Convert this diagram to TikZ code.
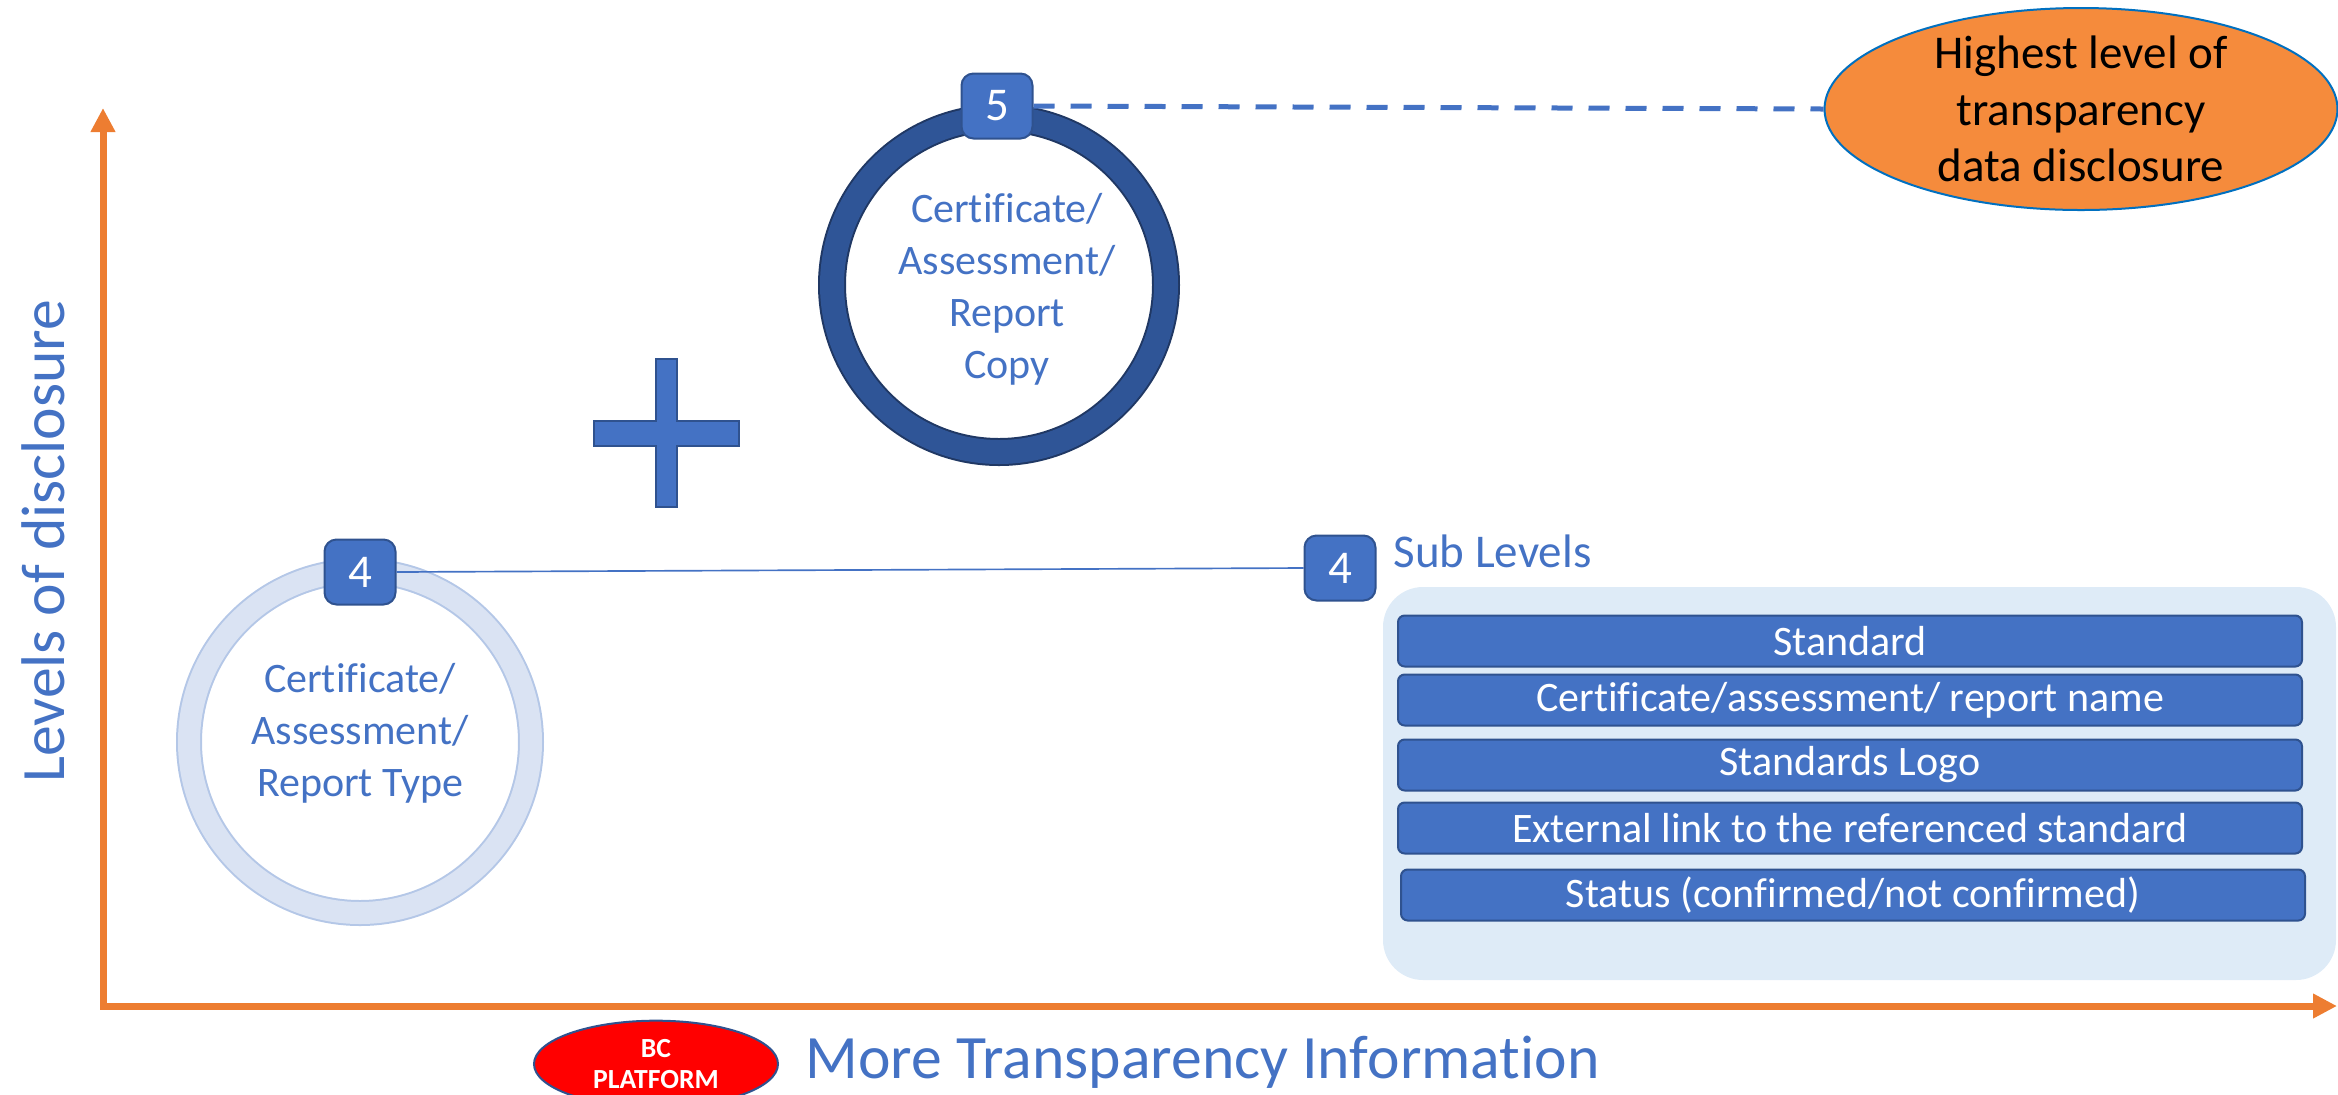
\documentclass[tikz,border=0pt]{standalone}
\usepackage{fontspec}
\setmainfont{Carlito}[Ligatures=NoCommon]
\usepackage{tikz}
\usetikzlibrary{shapes.geometric,arrows.meta}

\definecolor{axisorange}{RGB}{237,125,49}
\definecolor{accentblue}{RGB}{68,114,196}
\definecolor{edgeblue}{RGB}{47,82,143}
\definecolor{darkring}{RGB}{47,85,151}
\definecolor{darkringedge}{RGB}{32,56,100}
\definecolor{lightring}{RGB}{218,227,243}
\definecolor{lightringedge}{RGB}{180,199,231}
\definecolor{panelblue}{RGB}{222,235,247}
\definecolor{calloutorange}{RGB}{245,139,60}
\definecolor{calloutedge}{RGB}{0,112,192}

\begin{document}
\begin{tikzpicture}[x=0.3pt, y=-0.3pt,
        axis/.style={draw=axisorange, line width=2.1pt,
            {Triangle[length=7.2pt,width=7pt]}-{Triangle[length=7.2pt,width=7pt]}},
        axislabel/.style={text=accentblue, inner sep=0pt, font=\fontsize{18.5}{22}\selectfont},
        ring/.style={circle, draw=#1edge, line width=0.6pt, double=#1, inner sep=0pt},
        ringtext/.style={text=accentblue, align=center, inner sep=0pt, font=\fontsize{12.6}{15.6}\selectfont},
        badge/.style={draw=edgeblue, fill=accentblue, line width=0.6pt, rounded corners=3.6pt,
            minimum width=21.3pt, minimum height=19.5pt, inner sep=0pt, text=white,
            font=\fontsize{14.1}{16}\selectfont},
        bar/.style={draw=edgeblue, fill=accentblue, line width=0.6pt, rounded corners=2pt,
            minimum width=271.2pt, minimum height=15.3pt, inner sep=0pt, text=white,
            font=\fontsize{12.6}{15}\selectfont},
        link/.style={draw=accentblue, line width=0.5pt},
        leader/.style={draw=accentblue, line width=1.5pt, dash pattern=on 6.3pt off 4.8pt},
        callout/.style={ellipse, draw=calloutedge, fill=calloutorange, line width=0.6pt,
            minimum width=153.9pt, minimum height=60.6pt},
        platform/.style={ellipse, draw=edgeblue, fill=red, line width=0.6pt, inner sep=0pt,
            minimum width=73.2pt, minimum height=26pt, text=white, align=center,
            font=\bfseries\fontsize{8.3}{9.3}\selectfont}]
    \useasboundingbox (0,0) rectangle (2338,1094);

    \coordinate (origin) at (103,1006);
    \coordinate (ytip) at (103,108);
    \coordinate (xtip) at (2337,1006);
    \draw[axis] (ytip) -- (origin) -- (xtip);
    \node[axislabel, rotate=90, anchor=base] (ylab) at (64,541) {Levels of disclosure};
    \node[axislabel, anchor=base west] (xlab) at (805,1078) {More Transparency Information};
    \node[platform] (bc) at (656,1064) {BC\\PLATFORM};

    \node[ring=lightring, double distance=6.6pt, minimum size=102.6pt] (ringfour) at (360,742) {};
    \node[ringtext] (typetext) at (360,733) {Certificate/\\Assessment/\\Report Type};
    \node[ring=darkring, double distance=7.2pt, minimum size=100.2pt] (ringfive) at (999,285) {};
    \node[ringtext] (copytext) at (1007,289) {Certificate/\\Assessment/\\Report\\Copy};

    \draw[draw=edgeblue, fill=accentblue, line width=0.6pt]
        (594,421) -| (656,359) -| (677,421) -| (739,446) -| (677,507) -| (656,446) -| (594,421) -- cycle;

    \node[badge] (fourA) at (360,572) {4};
    \node[badge] (fourB) at (1340,568) {4};
    \node[badge] (five) at (997,106) {5};
    \node[text=accentblue, inner sep=0pt, anchor=base west, font=\fontsize{14.1}{16}\selectfont]
        (subhead) at (1393,567) {Sub Levels};

    \node[callout] (toplevel) at (2081,109) {};
    \node[align=center, inner sep=0pt, font=\fontsize{14.1}{17}\selectfont] (toptext) at (toplevel)
        {Highest level of\\transparency\\data disclosure};

    \draw[link] (fourA.east) -- (fourB.west);
    \draw[leader] (five.east) -- (toplevel.west);

    \fill[panelblue, rounded corners=12pt] (1383,587) rectangle (2336,980);
    \node[bar] (standard) at (1850,641) {Standard};
    \node[bar] (certname) at (1850,700) {Certificate/assessment/ report name};
    \node[bar] (logo) at (1850,765) {Standards Logo};
    \node[bar] (extlink) at (1850,828) {External link to the referenced standard};
    \node[bar] (status) at (1853,895) {Status (confirmed/not confirmed)};
\end{tikzpicture}
\end{document}
